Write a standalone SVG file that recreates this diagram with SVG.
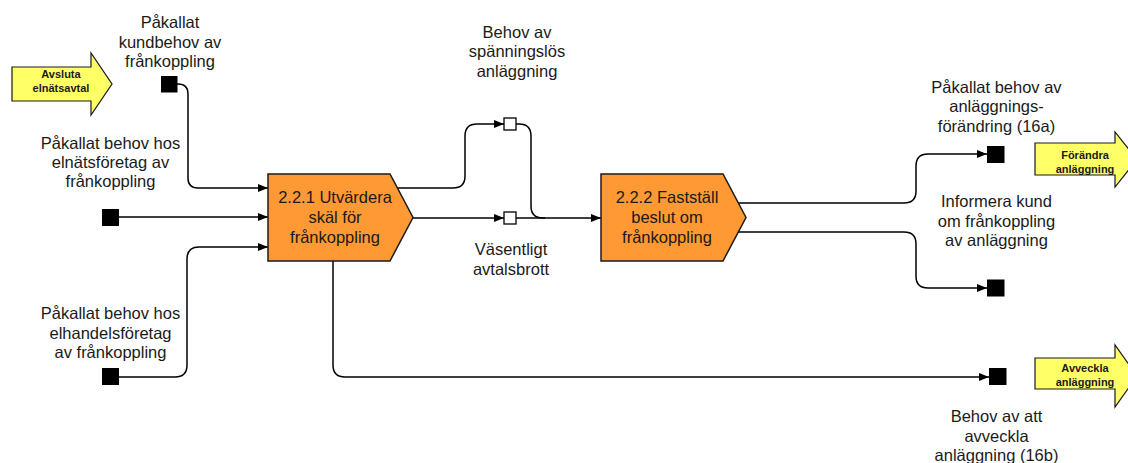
<svg xmlns="http://www.w3.org/2000/svg" width="1128" height="463" viewBox="0 0 1128 463">
<style>
.t{font-family:"Liberation Sans",Arial,sans-serif;font-size:16.5px;fill:#1a1a1a;text-anchor:middle}
.b{font-family:"Liberation Sans",Arial,sans-serif;font-size:11px;font-weight:bold;fill:#1a1a1a;text-anchor:middle}
.proc{fill:#FF9933;stroke:#1a1a1a;stroke-width:1.5}
.ya{fill:#FFFF66;stroke:#1a1a1a;stroke-width:1.2}
.sq{fill:#000}
.ws{fill:#fff;stroke:#000;stroke-width:1.3}
.c{fill:none;stroke:#000;stroke-width:1.5}
</style>
<defs>
<marker id="ah" markerUnits="userSpaceOnUse" markerWidth="11" markerHeight="9" refX="10" refY="4" orient="auto">
<path d="M0,0 L10,4 L0,8 z" fill="#000"/>
</marker>
</defs>
<g id="connectors">
<path class="c" marker-end="url(#ah)" d="M177,84 H178 Q188,84 188,94 V178 Q188,188 198,188 H268"/>
<path class="c" marker-end="url(#ah)" d="M119,217 H268"/>
<path class="c" marker-end="url(#ah)" d="M119,377 H175 Q187,377 187,365 V259 Q187,247 199,247 H268"/>
<path class="c" marker-end="url(#ah)" d="M333,261 V365 Q333,377 345,377 H989"/>
<path class="c" marker-end="url(#ah)" d="M396,188 H453 Q465,188 465,176 V136 Q465,124 477,124 H504"/>
<path class="c" marker-end="url(#ah)" d="M413,218 H504"/>
<path class="c" marker-end="url(#ah)" d="M516,124 H519 Q531,124 531,136 V206 Q531,218 543,218 H601"/>
<path class="c" d="M516,218 H545"/>
<path class="c" marker-end="url(#ah)" d="M738,203 H904 Q916,203 916,191 V166 Q916,154 928,154 H987"/>
<path class="c" marker-end="url(#ah)" d="M738,232 H904 Q916,232 916,244 V276 Q916,288 928,288 H987"/>
</g>
<g id="avsluta">
<path class="ya" d="M12,67 H91 V53 L112,84 L91,115 V101 H12 Z"/>
<text class="b" x="61" y="78">Avsluta</text>
<text class="b" x="61" y="92">elnätsavtal</text>
</g>
<g id="forandra">
<path class="ya" d="M1035,143 H1115 V132 L1137,159.5 L1115,187 V175 H1035 Z"/>
<text class="b" x="1085" y="159">Förändra</text>
<text class="b" x="1085" y="172.5">anläggning</text>
</g>
<g id="avveckla">
<path class="ya" d="M1035,358 H1115 V345 L1137,376 L1115,407 V389 H1035 Z"/>
<text class="b" x="1085" y="372">Avveckla</text>
<text class="b" x="1085" y="386">anläggning</text>
</g>
<g id="in-kund">
<rect class="sq" x="161" y="76" width="16.5" height="16.5"/>
<text class="t" x="170" y="28">Påkallat</text>
<text class="t" x="170" y="47.5">kundbehov av</text>
<text class="t" x="170" y="67">frånkoppling</text>
</g>
<g id="in-elnat">
<rect class="sq" x="102" y="209" width="17" height="17"/>
<text class="t" x="110.5" y="149">Påkallat behov hos</text>
<text class="t" x="110.5" y="168">elnätsföretag av</text>
<text class="t" x="110.5" y="187">frånkoppling</text>
</g>
<g id="in-elhandel">
<rect class="sq" x="102" y="368" width="17" height="17"/>
<text class="t" x="110.5" y="319">Påkallat behov hos</text>
<text class="t" x="110.5" y="338.5">elhandelsföretag</text>
<text class="t" x="110.5" y="358">av frånkoppling</text>
</g>
<g id="p221">
<path class="proc" d="M268,174 H390 L413,217.5 L390,261 H268 Z"/>
<text class="t" x="335" y="203">2.2.1 Utvärdera</text>
<text class="t" x="335" y="223">skäl för</text>
<text class="t" x="335" y="243">frånkoppling</text>
</g>
<g id="spanningslos">
<rect class="ws" x="504" y="118" width="12" height="12"/>
<text class="t" x="517" y="37.5">Behov av</text>
<text class="t" x="517" y="57">spänningslös</text>
<text class="t" x="517" y="76.5">anläggning</text>
</g>
<g id="avtalsbrott">
<rect class="ws" x="504" y="212" width="12" height="12"/>
<text class="t" x="511" y="255">Väsentligt</text>
<text class="t" x="511" y="274.5">avtalsbrott</text>
</g>
<g id="p222">
<path class="proc" d="M601,174 H723 L746,217.5 L723,261 H601 Z"/>
<text class="t" x="667" y="203">2.2.2 Fastställ</text>
<text class="t" x="667" y="223">beslut om</text>
<text class="t" x="667" y="243">frånkoppling</text>
</g>
<g id="out-16a">
<rect class="sq" x="987" y="146" width="17.5" height="17"/>
<text class="t" x="996.5" y="92.5">Påkallat behov av</text>
<text class="t" x="996.5" y="112">anläggnings-</text>
<text class="t" x="996.5" y="131.5">förändring (16a)</text>
</g>
<g id="out-informera">
<rect class="sq" x="987" y="279.5" width="17.5" height="17"/>
<text class="t" x="996.5" y="207">Informera kund</text>
<text class="t" x="996.5" y="226.5">om frånkoppling</text>
<text class="t" x="996.5" y="246">av anläggning</text>
</g>
<g id="out-16b">
<rect class="sq" x="989" y="368" width="17.5" height="17"/>
<text class="t" x="996.5" y="422">Behov av att</text>
<text class="t" x="996.5" y="441.5">avveckla</text>
<text class="t" x="996.5" y="461">anläggning (16b)</text>
</g>
</svg>
